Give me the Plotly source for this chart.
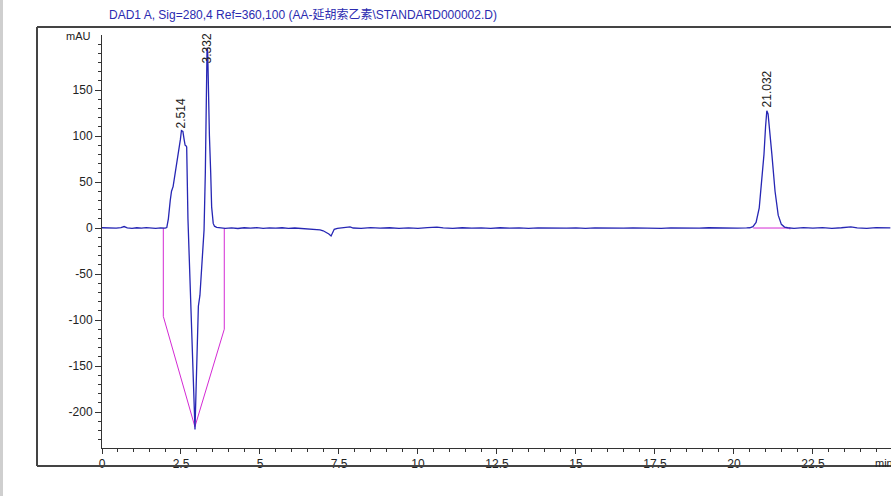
import plotly.graph_objects as go

# ---- data ----
time_min = [
    0.00, 0.15, 0.30, 0.45, 0.60, 0.70, 0.80, 0.95, 1.10, 1.25, 1.40, 1.55, 1.70, 1.85, 2.00, 2.05,
    2.10, 2.16, 2.20, 2.25, 2.30, 2.38, 2.44, 2.48, 2.514, 2.56, 2.60, 2.63, 2.67, 2.68, 2.72,
    2.92, 2.943, 2.98, 3.05, 3.10, 3.17, 3.23, 3.27, 3.30, 3.325, 3.345, 3.37, 3.40, 3.44, 3.47,
    3.52, 3.56, 3.63,
    3.70, 3.90, 4.10, 4.30, 4.50, 4.70, 4.90, 5.10, 5.30, 5.50, 5.70, 5.90, 6.10, 6.30, 6.50,
    6.70, 6.90, 7.00, 7.10, 7.18, 7.25, 7.30, 7.35, 7.45, 7.60, 7.75, 7.85, 7.95, 8.20, 8.50,
    8.80, 9.10, 9.40, 9.70, 10.00, 10.30, 10.60, 10.80, 11.10, 11.40, 11.70, 12.00, 12.30, 12.60,
    12.90, 13.20, 13.50, 13.80, 14.10, 14.40, 14.70, 15.00, 15.30, 15.60, 15.90, 16.20, 16.50,
    16.80, 17.10, 17.40, 17.70, 18.00, 18.30, 18.60, 18.90, 19.20, 19.50, 19.80, 20.10, 20.40,
    20.50, 20.60, 20.70, 20.80, 20.90, 20.95, 21.00, 21.04, 21.08, 21.15, 21.20, 21.30, 21.40,
    21.50, 21.60, 21.70, 21.90, 22.20, 22.50, 22.80, 23.10, 23.40, 23.70, 23.90, 24.20, 24.50,
    24.80, 24.95,
]
signal_mau = [
    0.3, 0.0, 0.4, -0.2, 0.5, 1.6, 0.2, -0.3, 0.3, -0.2, 0.4, 0.0, -0.3, 0.2, -0.2, 0.5,
    10, 30, 40, 45, 56, 72, 84, 96, 106, 105, 96, 90, 89, 88, 10,
    -217, -219, -172, -85, -73, -40, -2, 60, 150, 196, 192, 140, 100, 60, 23,
    5, 2, 0.8,
    0.5, -0.3, 0.2, -0.5, 0.3, -0.2, 0.4, -0.3, 0.2, -0.2, 0.3, -0.3, 0.0, -0.3, -0.8,
    -1.3, -2.0, -3.0, -4.8, -6.5, -8.7, -4.0, -1.4, -0.3, 0.2, 0.8, 1.2, 0.0, -0.3, 0.4,
    -0.2, 0.3, -0.4, 0.2, -0.3, 0.4, 1.0, 0.2, -0.4, 0.3, -0.2, 0.2, -0.4, 0.3,
    -0.2, 0.2, -0.3, 0.1, -0.2, 0.3, -0.1, 0.2, -0.3, 0.1, -0.2, 0.3, -0.1,
    0.2, -0.2, 0.1, -0.3, 0.2, -0.1, 0.1, -0.2, 0.3, -0.1, 0.2, -0.2, 0.1,
    0.3, 1.5, 6, 22, 56, 80, 110, 127.5, 124, 100, 80, 40, 14,
    4, 1, 0.3, -0.3, 0.4, -0.2, 0.5, -0.3, 0.3, 1.2, 0.2, -0.3, 0.4,
    -0.2, 0.2,
]

# integration baselines (magenta)
base1_time = [1.94, 1.94, 2.94, 3.87, 3.87]
base1_mau = [0.0, -96, -216, -110, 0.0]
base2_time = [20.61, 21.77, 21.77]
base2_mau = [0.0, 0.0, -1.5]

# peak labels
peak_rt = [2.514, 3.332, 21.032]
peak_label_y = [106.5, 177, 129]
peak_text = ["2.514", "3.332", "21.032"]

# axis ticks
x_tickvals = [0, 2.5, 5, 7.5, 10, 12.5, 15, 17.5, 20, 22.5]
x_ticktext = ["0", "2.5", "5", "7.5", "10", "12.5", "15", "17.5", "20", "22.5"]
y_tickvals = [-200, -150, -100, -50, 0, 50, 100, 150]
y_ticktext = ["-200", "-150", "-100", "-50", "0", "50", "100", "150"]

title_text = "DAD1 A, Sig=280,4 Ref=360,100 (AA-延胡索乙素\\STANDARD000002.D)"

# ---- figure ----
FONT = "Liberation Sans, Arial, Noto Sans CJK SC, sans-serif"
W, H = 891, 496
ML, MR, MT, MB = 102, 0, 35, 48
PW, PH = W - ML - MR, H - MT - MB

def px_x(p):
    return (p - ML) / PW

def px_y(p):
    return (H - MB - p) / PH

fig = go.Figure()
fig.add_trace(go.Scatter(x=base1_time, y=base1_mau, mode="lines",
                         line=dict(color="#d42ad4", width=1), hoverinfo="skip"))
fig.add_trace(go.Scatter(x=base2_time, y=base2_mau, mode="lines",
                         line=dict(color="#d42ad4", width=1), hoverinfo="skip"))
fig.add_trace(go.Scatter(x=time_min, y=signal_mau, mode="lines",
                         line=dict(color="#2626b4", width=1.3)))

for rt, ly, txt in zip(peak_rt, peak_label_y, peak_text):
    fig.add_annotation(x=rt, y=ly, text=txt, showarrow=False, textangle=-90,
                       xanchor="center", yanchor="bottom",
                       font=dict(family=FONT, size=12, color="#222"))

fig.add_annotation(xref="paper", yref="paper", x=0, y=1, xshift=5, yshift=20,
                   text=title_text, showarrow=False, xanchor="left", yanchor="middle",
                   font=dict(family=FONT, size=12, color="#2b2bb0"))
fig.add_annotation(xref="paper", yref="paper", x=0, y=1, xshift=-9, yshift=-1,
                   text="mAU", showarrow=False, xanchor="right", yanchor="middle",
                   font=dict(family=FONT, size=11, color="#222"))
fig.add_annotation(xref="x", yref="paper", x=24.4, y=0, yshift=-7,
                   text="min", showarrow=False, xanchor="left", yanchor="top",
                   font=dict(family=FONT, size=11, color="#222"))

shapes = [
    # page edge
    dict(type="rect", xref="paper", yref="paper", x0=px_x(0), x1=px_x(3), y0=px_y(496), y1=px_y(0),
         fillcolor="#cfcfcf", line=dict(width=0)),
    # frame
    dict(type="line", xref="paper", yref="paper", x0=px_x(37), x1=px_x(37), y0=px_y(27), y1=px_y(466),
         line=dict(color="#444", width=2)),
    dict(type="line", xref="paper", yref="paper", x0=px_x(37), x1=px_x(900), y0=px_y(27), y1=px_y(27),
         line=dict(color="#444", width=2)),
    dict(type="line", xref="paper", yref="paper", x0=px_x(37), x1=px_x(900), y0=px_y(466), y1=px_y(466),
         line=dict(color="#444", width=2)),
]

fig.update_layout(
    width=W, height=H,
    margin=dict(l=ML, r=MR, t=MT, b=MB, autoexpand=False),
    paper_bgcolor="white", plot_bgcolor="white",
    showlegend=False,
    shapes=shapes,
    font=dict(family=FONT, size=11, color="#222"),
)
fig.update_xaxes(range=[0, 24.97], showgrid=False, zeroline=False,
                 showline=True, linecolor="#333", linewidth=1,
                 ticks="outside", ticklen=5, tickcolor="#333",
                 tickvals=x_tickvals, ticktext=x_ticktext,
                 tickfont=dict(family=FONT, size=12, color="#222"),
                 minor=dict(dtick=0.5, ticks="outside", ticklen=3, tickcolor="#333"),
                 automargin=False)
fig.update_yaxes(range=[-239.1, 209.8], showgrid=False, zeroline=False,
                 showline=True, linecolor="#333", linewidth=1,
                 ticks="outside", ticklen=6, tickcolor="#333",
                 tickvals=y_tickvals, ticktext=y_ticktext,
                 tickfont=dict(family=FONT, size=12, color="#222"),
                 minor=dict(dtick=10, ticks="outside", ticklen=3, tickcolor="#333"),
                 automargin=False)

fig.write_html(
    "out.html",
    config={"displayModeBar": False},
    post_script="document.body.style.margin='0';document.body.style.overflow='hidden';",
)
